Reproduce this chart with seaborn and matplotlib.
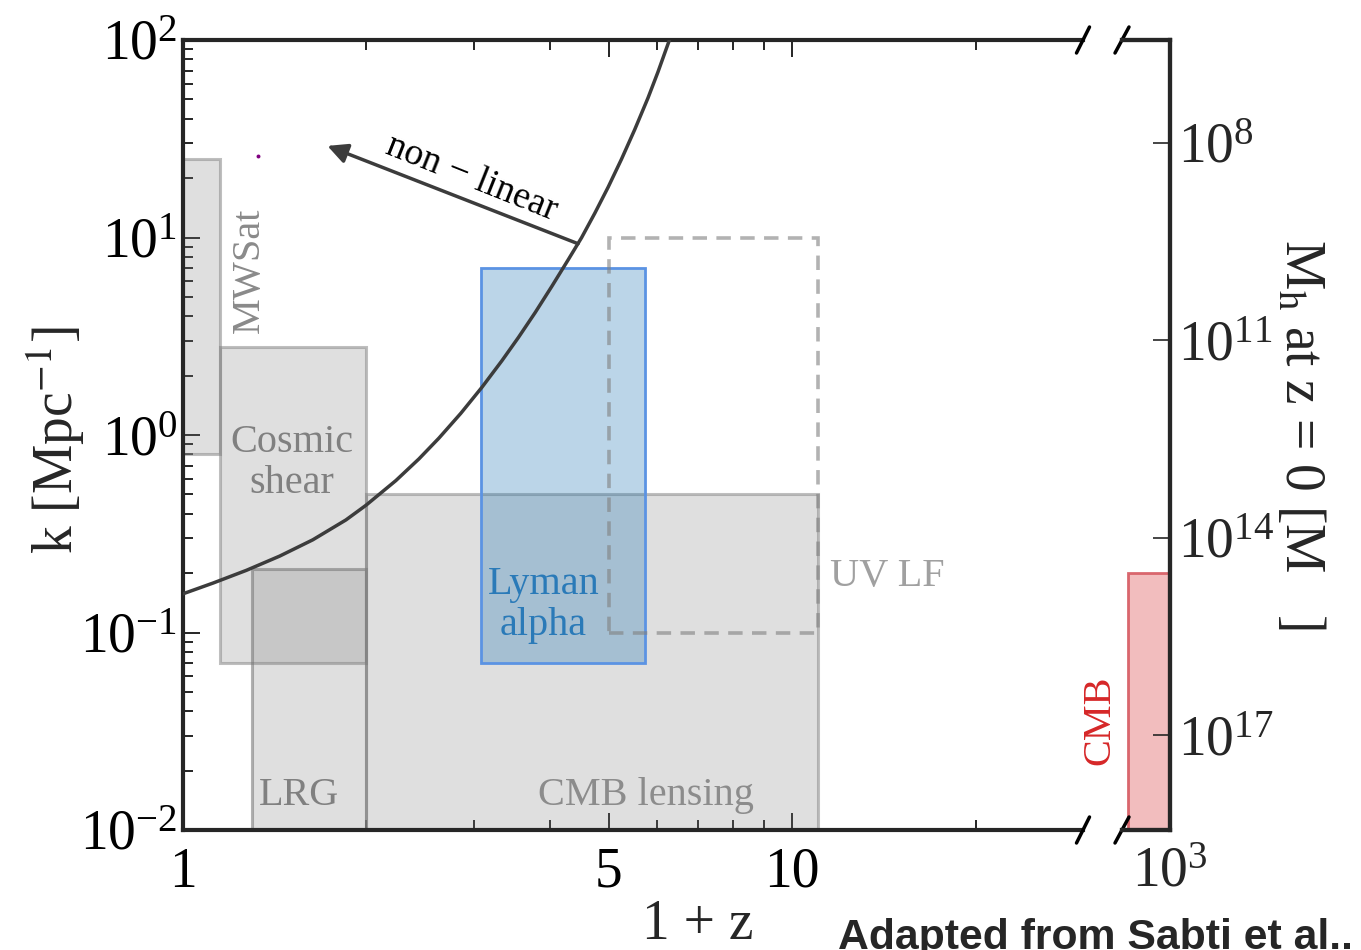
import matplotlib
matplotlib.use("Agg")
import matplotlib.pyplot as plt
from matplotlib.patches import Rectangle
from matplotlib.ticker import FixedLocator, NullLocator, NullFormatter, LogFormatterMathtext
import seaborn as sns

# Survey windows in (1 + z, k [1/Mpc])
probes = ["MWSat", "Cosmic shear", "LRG", "CMB lensing", "Lyman alpha", "UV LF"]
z_min = [1.0, 1.15, 1.30, 2.0, 3.08, 5.0]
z_max = [1.15, 2.0, 2.0, 11.0, 5.73, 11.0]
k_min = [0.8, 0.07, 0.01, 0.01, 0.07, 0.1]
k_max = [25.0, 2.8, 0.21, 0.5, 7.0, 10.0]

# CMB window (far-right panel)
cmb_z = [730.0, 1000.0]
cmb_k = [0.01, 0.2]

# Non-linear scale k_NL(z)
nl_z = [1.0, 1.121, 1.271, 1.441, 1.633, 1.851, 1.996, 2.235, 2.439, 2.630, 2.857,
        3.095, 3.337, 3.553, 3.785, 4.029, 4.290, 4.510, 4.742, 4.986, 5.242, 5.512,
        5.797, 6.018, 6.265, 6.32]
nl_k = [0.1570, 0.1781, 0.2065, 0.2437, 0.2946, 0.3715, 0.4404, 0.5875, 0.7567, 0.9636,
        1.287, 1.745, 2.376, 3.121, 4.171, 5.650, 7.737, 9.984, 13.29, 17.98, 24.86,
        35.15, 50.92, 68.77, 97.23, 105.0]

# Arrow pointing into the non-linear regime
arrow_tail = (4.45, 9.3)
arrow_head = (1.726, 29.1)

# Stray marker
dot_z = [1.33]
dot_k = [25.9]

# Halo-mass mapping M = M_norm * k^-3
M_norm = 10 ** 12.44
mass_ticks = [1e8, 1e11, 1e14, 1e17]

sns.set_style("ticks")
plt.rcParams["font.family"] = ["Liberation Serif", "DejaVu Serif"]
plt.rcParams["mathtext.fontset"] = "stix"
plt.rcParams["axes.linewidth"] = 3.0

W, H = 1361, 950
fig = plt.figure(figsize=(W / 100, H / 100), dpi=100)
ax = fig.add_axes([183 / W, 1 - 830 / H, (1083 - 183) / W, 790 / H])
ax2 = fig.add_axes([1122 / W, 1 - 830 / H, 48 / W, 790 / H])

GRAY_FACE = (0.5, 0.5, 0.5, 0.25)
GRAY_EDGE = (0.5, 0.5, 0.5, 0.5)
styles = {
    "MWSat": dict(facecolor=GRAY_FACE, edgecolor=GRAY_EDGE, lw=2.2),
    "Cosmic shear": dict(facecolor=GRAY_FACE, edgecolor=GRAY_EDGE, lw=2.2),
    "LRG": dict(facecolor=GRAY_FACE, edgecolor=(0.45, 0.45, 0.45, 0.55), lw=2.2),
    "CMB lensing": dict(facecolor=GRAY_FACE, edgecolor=GRAY_EDGE, lw=2.2),
    "Lyman alpha": dict(facecolor=(0.122, 0.467, 0.706, 0.3), edgecolor="#5b93e3", lw=2.0),
    "UV LF": dict(facecolor="none", edgecolor=(0.5, 0.5, 0.5, 0.6), lw=2.6, linestyle=(0, (4, 2.6))),
}

for name, z0, z1, k0, k1 in zip(probes, z_min, z_max, k_min, k_max):
    ax.add_patch(Rectangle((z0, k0), z1 - z0, k1 - k0, zorder=2, **styles[name]))

ax2.add_patch(Rectangle((cmb_z[0], cmb_k[0]), cmb_z[1] - cmb_z[0], cmb_k[1] - cmb_k[0],
                        facecolor=(0.839, 0.153, 0.157, 0.3), edgecolor=(0.84, 0.35, 0.38, 0.9),
                        lw=2.0, zorder=2))

sns.lineplot(x=nl_z, y=nl_k, ax=ax, color="#3c3c3c", lw=2.5, sort=False,
             estimator=None, zorder=4)
ax.lines[-1].set_solid_joinstyle("round")
sns.scatterplot(x=dot_z, y=dot_k, ax=ax, color="purple", s=8, linewidth=0, zorder=4)

ax.annotate("", xy=arrow_head, xytext=arrow_tail,
            arrowprops=dict(arrowstyle="-|>", color="#3c3c3c", lw=2.5,
                            mutation_scale=30, shrinkA=0, shrinkB=0), zorder=5)
ax.text(2.98, 20.0, "non − linear", rotation=-21.8, rotation_mode="anchor",
        ha="center", va="center", fontsize=27, color="black", zorder=5)

# Probe labels
ax.text(1.287, 6.84, "MWSat", rotation=90, ha="center", va="center", fontsize=29, color="#8a8a8a")
ax.text(1.507, 0.721, "Cosmic\nshear", ha="center", va="center", fontsize=29,
        color="#808080", linespacing=1.12)
ax.text(1.553, 0.0149, "LRG", ha="center", va="center", fontsize=29, color="#808080")
ax.text(5.75, 0.0149, "CMB lensing", ha="center", va="center", fontsize=29, color="#8c8c8c")
ax.text(3.905, 0.138, "Lyman\nalpha", ha="center", va="center", fontsize=29,
        color="#2a7ab8", linespacing=1.12)
ax.text(14.3, 0.191, "UV LF", ha="center", va="center", fontsize=29, color="#a0a0a0")
ax2.text(-0.46, 0.139, "CMB", transform=ax2.transAxes, rotation=90, ha="center",
         va="center", fontsize=29, color="#d62728", clip_on=False)

# Main panel axes
ax.set_xscale("log")
ax.set_yscale("log")
ax.set_xlim(1, 30)
ax.set_ylim(0.01, 100)
ax.xaxis.set_major_locator(FixedLocator([1, 5, 10]))
ax.xaxis.set_major_formatter(plt.FuncFormatter(lambda v, p: f"{v:g}"))
ax.xaxis.set_minor_locator(FixedLocator([2, 3, 4, 6, 7, 8, 9, 20]))
ax.xaxis.set_minor_formatter(NullFormatter())
ax.yaxis.set_major_locator(FixedLocator([0.01, 0.1, 1, 10, 100]))
ax.yaxis.set_major_formatter(LogFormatterMathtext())
ax.spines["right"].set_visible(False)
ax.tick_params(which="both", direction="in", top=True, right=False, width=1.2,
               labelsize=40, colors="black")
ax.tick_params(which="major", length=12)
ax.tick_params(which="minor", length=7)
ax.tick_params(axis="x", which="major", pad=12)
ax.tick_params(axis="y", which="major", pad=4)
ax.set_xlabel("")
ax.set_ylabel("")

# Far-right panel
ax2.set_xscale("log")
ax2.set_yscale("log")
ax2.set_xlim(700, 1000)
ax2.set_ylim(0.01, 100)
ax2.xaxis.set_major_locator(FixedLocator([1000]))
ax2.xaxis.set_major_formatter(LogFormatterMathtext())
ax2.xaxis.set_minor_locator(NullLocator())
ax2.yaxis.set_major_locator(NullLocator())
ax2.yaxis.set_minor_locator(NullLocator())
ax2.spines["left"].set_visible(False)
ax2.tick_params(which="both", direction="in", left=False, right=False, labelleft=False,
                labelsize=40, width=1.2, length=12, pad=12)

ax3 = ax2.twinx()
ax3.set_yscale("log")
ax3.set_ylim(M_norm * 0.01 ** -3, M_norm * 100.0 ** -3)
ax3.yaxis.set_major_locator(FixedLocator(mass_ticks))
ax3.yaxis.set_major_formatter(LogFormatterMathtext())
ax3.yaxis.set_minor_locator(NullLocator())
ax3.spines["left"].set_visible(False)
ax3.tick_params(which="major", direction="in", length=12, width=1.2, labelsize=40, pad=6)

# Axis break marks
kw = dict(color="black", lw=2.5, clip_on=False, zorder=10)
dy = 13 / 790
for yy in (0, 1):
    ax.plot([1 - 6.5 / 900, 1 + 6.5 / 900], [yy - dy, yy + dy], transform=ax.transAxes, **kw)
    ax2.plot([-7 / 48, 7 / 48], [yy - dy, yy + dy], transform=ax2.transAxes, **kw)

# Axis titles
fig.text(55 / W, 1 - 440 / H, "k [Mpc$^{-1}$]", rotation=90, ha="center", va="center", fontsize=40)
fig.text(698 / W, 1 - 925 / H, "1 + z", ha="center", va="center", fontsize=40)
fig.text(1300 / W, 1 - 435 / H, "M$_\\mathrm{h}$ at z = 0 [M   ]", rotation=270,
         ha="center", va="center", fontsize=40)
fig.text(838 / W, 1 / H, "Adapted from Sabti et al..", ha="left", va="baseline",
         fontsize=30.8, fontweight="bold", family=["Liberation Sans", "DejaVu Sans"])

fig.savefig("out.png", dpi=100)
